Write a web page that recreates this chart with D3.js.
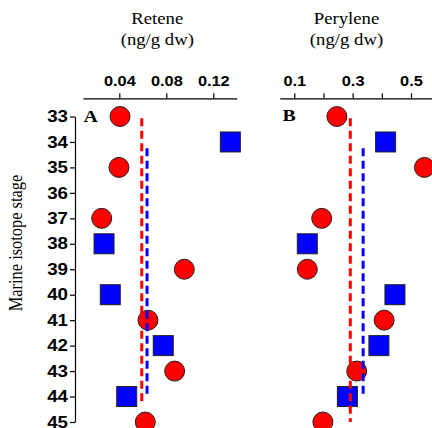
<!DOCTYPE html>
<html><head><meta charset="utf-8">
<script src="https://cdn.jsdelivr.net/npm/d3@7"></script>
<style>html,body{margin:0;padding:0;background:#fff;overflow:hidden}</style>
</head><body>
<svg id="c" width="432" height="428"></svg>
<script>
// ---- data ----
const circleStages = [33, 35, 37, 39, 41, 43, 45];
const squareStages = [34, 38, 40, 42, 44];
const reteneCircles = [0.0406, 0.0397, 0.025, 0.0953, 0.0644, 0.0871, 0.0621];
const reteneSquares = [0.1345, 0.027, 0.0323, 0.0774, 0.0463];
const peryleneCircles = [0.246, 0.546, 0.194, 0.1446, 0.408, 0.314, 0.198];
const peryleneSquares = [0.413, 0.1446, 0.445, 0.390, 0.282];
const reteneMeans = {red: 0.0591, blue: 0.0636};
const peryleneMeans = {red: 0.292, blue: 0.336};
const reteneTicks = [0.04, 0.08, 0.12];
const peryleneTicks = [0.1, 0.2, 0.3, 0.4, 0.5];
const peryleneLabelled = [0.1, 0.3, 0.5];
const stageTicks = d3.range(33, 46);
const redSpanA = [33.07, 44.25], redSpanB = [33.07, 45], blueSpan = [34.25, 44.0];

const SX = 1.17; // horizontal text stretch
const svg = d3.select("#c");
const y = d3.scaleLinear().domain([33, 45]).range([116.5, 422]);
const xA = d3.scaleLinear().domain([0.009, 0.14]).range([82.9, 236.8]);
const xB = d3.scaleLinear().domain([0.05, 0.572]).range([279.7, 432]);

function stretchText(sel, x, yy, txt) {
  return sel.append("text").attr("transform", `translate(${x},${yy}) scale(${SX},1)`).text(txt);
}

// titles
const serif = "'Liberation Serif','Times New Roman',serif";
const sans = "'Liberation Sans',Arial,sans-serif";
[["Retene", 157.3], ["Perylene", 346.5]].forEach(([t, cx]) => {
  stretchText(svg, cx, 24, t).attr("text-anchor", "middle").attr("font-family", serif).attr("font-size", 16);
  stretchText(svg, cx, 45, "(ng/g dw)").attr("text-anchor", "middle").attr("font-family", serif).attr("font-size", 16);
});

// y-axis title
svg.append("text").attr("transform", `translate(22,243) rotate(-90) scale(1,${SX})`)
  .attr("text-anchor", "middle").attr("font-family", serif).attr("font-size", 16.4)
  .text("Marine isotope stage");

// x axes
function topAxis(x, ticks, labelled) {
  const g = svg.append("g").attr("transform", "translate(0,98.3)")
    .call(d3.axisTop(x).tickValues(ticks).tickSize(5).tickSizeOuter(0).tickPadding(7)
      .tickFormat(d => labelled.includes(d) ? String(d) : ""));
  g.select(".domain").attr("stroke", "#000").attr("stroke-width", 1.2);
  g.selectAll(".tick line").attr("stroke", "#000").attr("stroke-width", 1.2);
  g.selectAll(".tick text").attr("font-family", sans).attr("font-weight", "bold")
    .attr("font-size", 14).attr("fill", "#000")
    .attr("transform", `scale(${SX},1)`);
}
topAxis(xA, reteneTicks, reteneTicks);
topAxis(xB, peryleneTicks, peryleneLabelled);

// y axis
const gy = svg.append("g").attr("transform", "translate(75,0)")
  .call(d3.axisLeft(y).tickValues(stageTicks).tickSize(5).tickSizeOuter(0).tickPadding(2).tickFormat(d3.format("d")));
gy.select(".domain").attr("stroke", "#000").attr("stroke-width", 1.2);
gy.selectAll(".tick line").attr("stroke", "#000").attr("stroke-width", 1.2);
gy.selectAll(".tick text").attr("font-family", sans).attr("font-weight", "bold")
  .attr("font-size", 16).attr("fill", "#000")
  .attr("transform", `translate(-7,0) scale(${SX},1)`).attr("x", 0);

// panel letters
stretchText(svg, 83.5, 122, "A").attr("font-family", serif).attr("font-weight", "bold").attr("font-size", 17);
stretchText(svg, 282.5, 121, "B").attr("font-family", serif).attr("font-weight", "bold").attr("font-size", 17);

function panel(x, circles, squares, means, redSpan) {
  const g = svg.append("g");
  g.selectAll("circle").data(circleStages.map((s, i) => [s, circles[i]])).join("circle")
    .attr("cx", d => x(d[1])).attr("cy", d => y(d[0])).attr("r", 10)
    .attr("fill", "#ff0000").attr("stroke", "#222").attr("stroke-width", 1);
  g.selectAll("rect").data(squareStages.map((s, i) => [s, squares[i]])).join("rect")
    .attr("x", d => x(d[1]) - 10).attr("y", d => y(d[0]) - 10).attr("width", 20).attr("height", 20)
    .attr("fill", "#0000ff").attr("stroke", "#222").attr("stroke-width", 1);
  g.append("line").attr("x1", x(means.red)).attr("x2", x(means.red))
    .attr("y1", y(redSpan[0])).attr("y2", y(redSpan[1]))
    .attr("stroke", "#ff0000").attr("stroke-width", 3).attr("stroke-dasharray", "8,4.5");
  g.append("line").attr("x1", x(means.blue)).attr("x2", x(means.blue))
    .attr("y1", y(blueSpan[0])).attr("y2", y(blueSpan[1]))
    .attr("stroke", "#0000ff").attr("stroke-width", 3).attr("stroke-dasharray", "8,4.5");
}
panel(xA, reteneCircles, reteneSquares, reteneMeans, redSpanA);
panel(xB, peryleneCircles, peryleneSquares, peryleneMeans, redSpanB);
</script>
</body></html>
